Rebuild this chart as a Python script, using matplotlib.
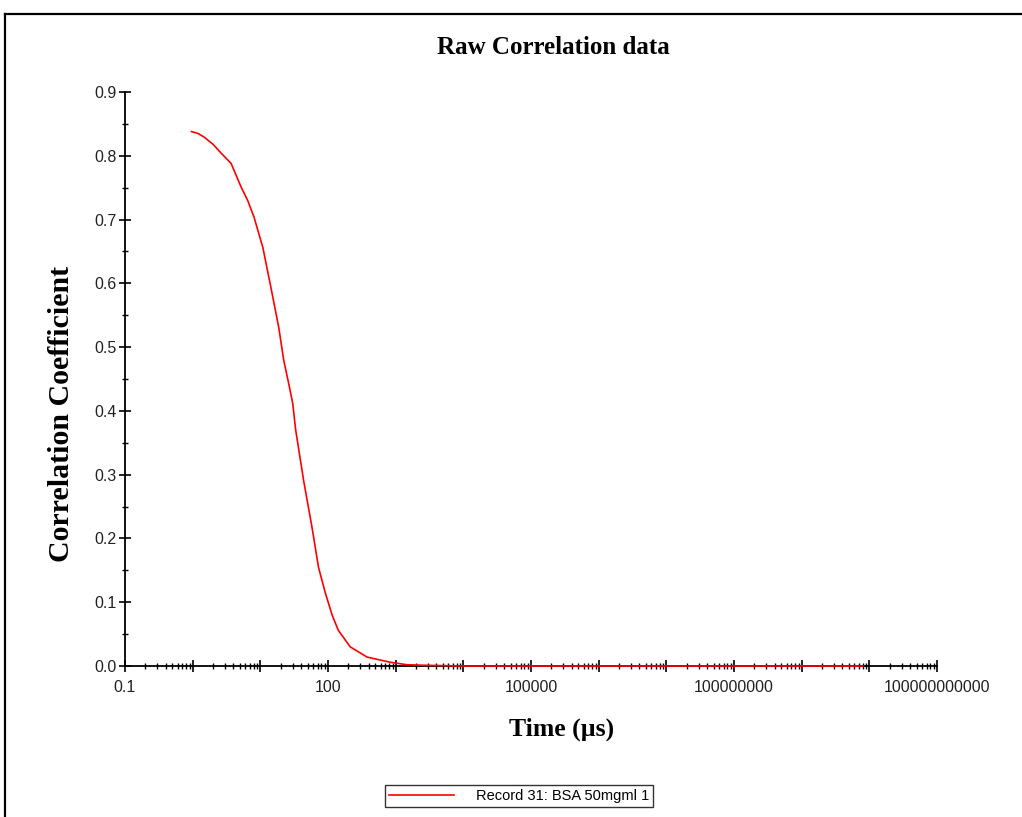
import numpy as np
import matplotlib
matplotlib.use("Agg")
import matplotlib.pyplot as plt
from matplotlib.ticker import FixedLocator, FuncFormatter
from matplotlib.lines import Line2D

# Data (time in microseconds, correlation coefficient)
time_us = [0.96, 1.2, 1.49, 2.0, 2.64, 3.7, 5.2, 6.5, 8.06, 10.9, 14.3, 18.7, 22.2,
           26.0, 30.1, 33.3, 43.6, 59.0, 72.3, 91.6, 115, 142, 213, 378, 822,
           1459, 3000, 1.0e4, 1.0e5, 1.0e6, 1.0e7, 1.0e8, 1.0e9, 8.0e9]
corr = [0.838, 0.835, 0.829, 0.818, 0.804, 0.788, 0.751, 0.730, 0.704, 0.656,
        0.594, 0.531, 0.479, 0.445, 0.412, 0.370, 0.291, 0.213, 0.155, 0.114,
        0.080, 0.056, 0.030, 0.014, 0.006, 0.002, 0.001, 0.0, 0.0, 0.0, 0.0,
        0.0, 0.0, 0.0]
series_label = "Record 31: BSA 50mgml 1"
x_label_decades = [-1, 2, 5, 8, 11]
y_ticks = [0.0, 0.1, 0.2, 0.3, 0.4, 0.5, 0.6, 0.7, 0.8, 0.9]

W, H = 1022, 817
fig = plt.figure(figsize=(W / 100, H / 100), dpi=100)
ax = fig.add_axes([125 / W, 1 - 666 / H, (937 - 125) / W, (666 - 92) / H])

ax.plot(time_us, corr, color="#ff0000", lw=1.2, label=series_label, zorder=5, clip_on=False)
ax.set_xscale("log")
ax.set_xlim(0.1, 1e11)
ax.set_ylim(0, 0.9)

for s in ["top", "right"]:
    ax.spines[s].set_visible(False)
for s in ["left", "bottom"]:
    ax.spines[s].set_linewidth(1.3)
    ax.spines[s].set_color("black")

majors = [10.0 ** e for e in range(-1, 12)]
minors = [m * 10.0 ** e for e in range(-1, 11) for m in range(2, 10)]
ax.xaxis.set_major_locator(FixedLocator(majors))
ax.xaxis.set_minor_locator(FixedLocator(minors))

def xfmt(v, pos):
    e = int(round(np.log10(v)))
    if e not in x_label_decades:
        return ""
    return "0.1" if e == -1 else str(int(round(v)))

ax.xaxis.set_major_formatter(FuncFormatter(xfmt))
ax.xaxis.set_minor_formatter(FuncFormatter(lambda v, p: ""))

ax.yaxis.set_major_locator(FixedLocator(y_ticks))
ax.yaxis.set_minor_locator(FixedLocator([v + 0.05 for v in y_ticks[:-1]]))
ax.yaxis.set_major_formatter(FuncFormatter(lambda v, p: f"{v:.1f}"))

tick_font = "Liberation Sans"
ax.tick_params(axis="both", which="major", direction="inout", length=8, width=1.2,
               labelsize=11.5, colors="black")
ax.tick_params(axis="both", which="minor", direction="inout", length=5, width=1.0)
ax.tick_params(axis="x", which="major", pad=6)
ax.tick_params(axis="y", which="major", pad=2)
for lab in ax.get_xticklabels() + ax.get_yticklabels():
    lab.set_fontfamily(tick_font)
    lab.set_color("#222222")

serif = "Liberation Serif"
fig.text(553 / W, 1 - 47 / H, "Raw Correlation data", ha="center", va="center",
         fontsize=18, fontweight="bold", family=serif)
fig.text(62 / W, 1 - 414 / H, "Correlation Coefficient", ha="center", va="center",
         rotation=90, fontsize=21.5, fontweight="bold", family=serif)
fig.text(562 / W, 1 - 729 / H, "Time (µs)", ha="center", va="center",
         fontsize=18.5, fontweight="bold", family=serif)

leg = fig.legend(loc="center", bbox_to_anchor=(519 / W, 1 - 796 / H),
                 prop={"family": tick_font, "size": 10.5}, frameon=True,
                 fancybox=False, edgecolor="black", handlelength=4.5,
                 handletextpad=1.5, borderpad=0.25, borderaxespad=0)
leg.get_frame().set_linewidth(1.0)

# outer border (left and top visible)
fig.add_artist(Line2D([5 / W, 5 / W], [0, 1 - 14 / H], transform=fig.transFigure,
                      color="black", lw=1.6))
fig.add_artist(Line2D([5 / W, 1], [1 - 14 / H, 1 - 14 / H], transform=fig.transFigure,
                      color="black", lw=1.6))

fig.savefig("out.png", dpi=100)
